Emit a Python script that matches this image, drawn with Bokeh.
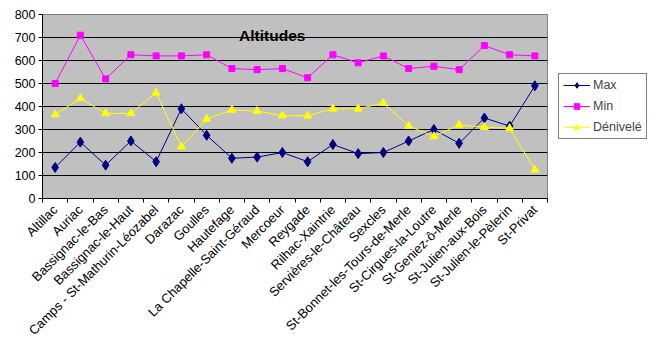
import math
from bokeh.plotting import figure
from bokeh.models import (Range1d, FixedTicker, Legend, LegendItem, Label, ColumnDataSource)
from bokeh.embed import file_html
from bokeh.resources import INLINE

communes = ["Altillac", "Auriac", "Bassignac-le-Bas", "Bassignac-le-Haut",
            "Camps - St-Mathurin-Léozabel", "Darazac", "Goulles", "Hautefage",
            "La Chapelle-Saint-Géraud", "Mercoeur", "Reygade", "Rilhac-Xaintrie",
            "Servières-le-Château", "Sexcles", "St-Bonnet-les-Tours-de-Merle",
            "St-Cirgues-la-Loutre", "St-Geniez-ô-Merle", "St-Julien-aux-Bois",
            "St-Julien-le-Pèlerin", "St-Privat"]
max_vals = [135, 245, 145, 250, 160, 390, 275, 175, 180, 200, 160, 235, 195, 200,
            250, 300, 240, 350, 315, 490]
min_vals = [500, 710, 520, 625, 620, 620, 625, 565, 560, 565, 525, 625, 590, 620,
            565, 575, 560, 665, 625, 620]
deniv_vals = [365, 435, 370, 370, 460, 225, 345, 385, 380, 360, 360, 390, 390, 415,
              315, 270, 320, 310, 305, 125]
y_ticks = [0, 100, 200, 300, 400, 500, 600, 700, 800]

n = len(communes)
xs = [i + 0.5 for i in range(n)]
src = ColumnDataSource(dict(x=xs, mx=max_vals, mn=min_vals, dv=deniv_vals))

FONT = "Liberation Sans"

p = figure(frame_width=505, frame_height=184, output_backend="svg", toolbar_location=None,
           x_range=Range1d(0, n), y_range=Range1d(0, 800),
           min_border_left=42, min_border_top=14, min_border_right=0, min_border_bottom=150)
p.background_fill_color = "#C0C0C0"
p.border_fill_color = "white"
p.outline_line_color = "#808080"

# lines + markers
l1 = p.line("x", "mx", source=src, line_color="#000080", line_width=1)
s1 = p.scatter("x", "mx", source=src, marker="diamond", size=10, fill_color="#000080", line_color="#000080")
l2 = p.line("x", "mn", source=src, line_color="#FF00FF", line_width=1)
s2 = p.scatter("x", "mn", source=src, marker="square", size=6, fill_color="#FF00FF", line_color="#FF00FF")
l3 = p.line("x", "dv", source=src, line_color="#FFFF00", line_width=1)
s3 = p.scatter("x", "dv", source=src, marker="triangle", size=8, fill_color="#FFFF00", line_color="#FFFF00")

# axes
p.xaxis.ticker = FixedTicker(ticks=xs, minor_ticks=list(range(n + 1)))
p.xaxis.major_label_overrides = {x: c for x, c in zip(xs, communes)}
p.xaxis.major_label_orientation = math.pi / 4
p.xaxis.major_tick_out = 0
p.xaxis.major_tick_in = 0
p.xaxis.minor_tick_out = 4
p.xaxis.minor_tick_in = 0
p.xaxis.minor_tick_line_color = "black"
p.xaxis.axis_line_color = "black"
p.xaxis.major_label_text_font = FONT
p.xaxis.major_label_text_font_size = "13px"
p.xaxis.major_label_text_color = "black"
p.xaxis.major_label_standoff = 5

p.yaxis.ticker = FixedTicker(ticks=y_ticks)
p.yaxis.minor_tick_line_color = None
p.yaxis.major_tick_out = 4
p.yaxis.major_tick_in = 0
p.yaxis.axis_line_color = "black"
p.yaxis.major_label_text_font = FONT
p.yaxis.major_label_text_font_size = "12.5px"
p.yaxis.major_label_text_color = "black"
p.yaxis.major_label_standoff = 3

p.xgrid.grid_line_color = None
p.ygrid.ticker = FixedTicker(ticks=y_ticks)
p.ygrid.grid_line_color = "black"
p.ygrid.grid_line_alpha = 1

# title inside plot
p.add_layout(Label(x=9.1, y=708, text="Altitudes", text_font=FONT, text_font_size="15.5px",
                   text_font_style="bold", text_align="center", text_baseline="middle",
                   text_color="black"))

legend = Legend(items=[LegendItem(label="Max", renderers=[l1, s1]),
                       LegendItem(label="Min", renderers=[l2, s2]),
                       LegendItem(label="Dénivelé", renderers=[l3, s3])],
                location="center_left", orientation="vertical")
legend.label_text_font = FONT
legend.label_text_font_size = "12.5px"
legend.border_line_color = "black"
legend.border_line_width = 1
legend.background_fill_color = "white"
legend.background_fill_alpha = 1
legend.glyph_width = 27
legend.glyph_height = 14
legend.spacing = 7
legend.padding = 4
legend.margin = 11
legend.label_standoff = 3
legend.label_height = 14
p.add_layout(legend, "right")

open("out.html", "w").write(file_html(p, INLINE))
